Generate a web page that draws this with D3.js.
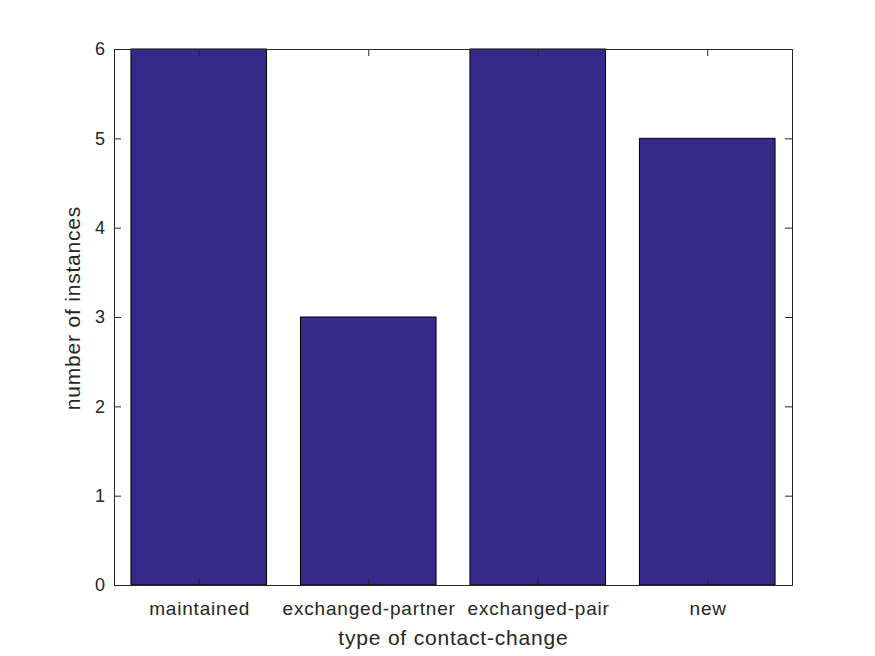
<!DOCTYPE html>
<html><head><meta charset="utf-8">
<script src="https://cdn.jsdelivr.net/npm/d3@7"></script>
<style>body{margin:0;background:#fff}</style>
</head><body>
<script>
const categories = ["maintained", "exchanged-partner", "exchanged-pair", "new"];
const values = [6, 3, 6, 5];
const yTicks = [0, 1, 2, 3, 4, 5, 6];

const W = 875, H = 656;
const m = {left: 114, right: 83, top: 49, bottom: 71};
const iw = W - m.left - m.right, ih = H - m.top - m.bottom;
const font = "'Liberation Sans', Arial, sans-serif";
const axisColor = "#262626";

const svg = d3.select("body").append("svg").attr("width", W).attr("height", H);
const g = svg.append("g").attr("transform", `translate(${m.left},${m.top})`);

const x = d3.scaleLinear().domain([0.5, 4.5]).range([0, iw]);
const y = d3.scaleLinear().domain([0, 6]).range([ih, 0]);
const bw = (x(1.4) - x(0.6));

g.selectAll("rect.bar").data(values).enter().append("rect")
  .attr("class", "bar")
  .attr("x", (d, i) => x(i + 1) - bw / 2)
  .attr("y", d => y(d))
  .attr("width", bw)
  .attr("height", d => y(0) - y(d))
  .attr("fill", "#352a87")
  .attr("stroke", "#000")
  .attr("stroke-width", 1);

const tl = 7;
const yAxis = d3.axisLeft(y).tickValues(yTicks).tickSize(-tl).tickPadding(tl + 2).tickFormat(d3.format("d"));
const ya = g.append("g").call(yAxis);
const yAxisR = d3.axisRight(y).tickValues(yTicks).tickSize(-tl).tickFormat("");
const yr = g.append("g").attr("transform", `translate(${iw},0)`).call(yAxisR);
const xAxis = d3.axisBottom(x).tickValues([1, 2, 3, 4]).tickSize(-tl).tickPadding(tl + 10)
  .tickFormat((d) => categories[d - 1]);
const xa = g.append("g").attr("transform", `translate(0,${ih})`).call(xAxis);
const xAxisT = d3.axisTop(x).tickValues([1, 2, 3, 4]).tickSize(-tl).tickFormat("");
const xt = g.append("g").call(xAxisT);

[ya, yr, xa, xt].forEach(a => {
  a.select(".domain").attr("stroke", axisColor).attr("stroke-width", 1);
  a.selectAll(".tick line").attr("stroke", axisColor);
  a.selectAll("text").attr("fill", axisColor).attr("font-family", font).attr("font-size", 18);
});
xa.selectAll("text").attr("font-size", 19).attr("letter-spacing", 0.8).attr("dx", 0.4);

svg.append("text").attr("x", m.left + iw / 2 + 0.4).attr("y", 645)
  .attr("text-anchor", "middle").attr("font-family", font).attr("font-size", 21)
  .attr("letter-spacing", 0.8)
  .attr("fill", axisColor).text("type of contact-change");
svg.append("text").attr("transform", `translate(80,${m.top + ih / 2 - 9}) rotate(-90)`)
  .attr("text-anchor", "middle").attr("font-family", font).attr("font-size", 21)
  .attr("letter-spacing", 0.8)
  .attr("fill", axisColor).text("number of instances");
</script>
</body></html>
